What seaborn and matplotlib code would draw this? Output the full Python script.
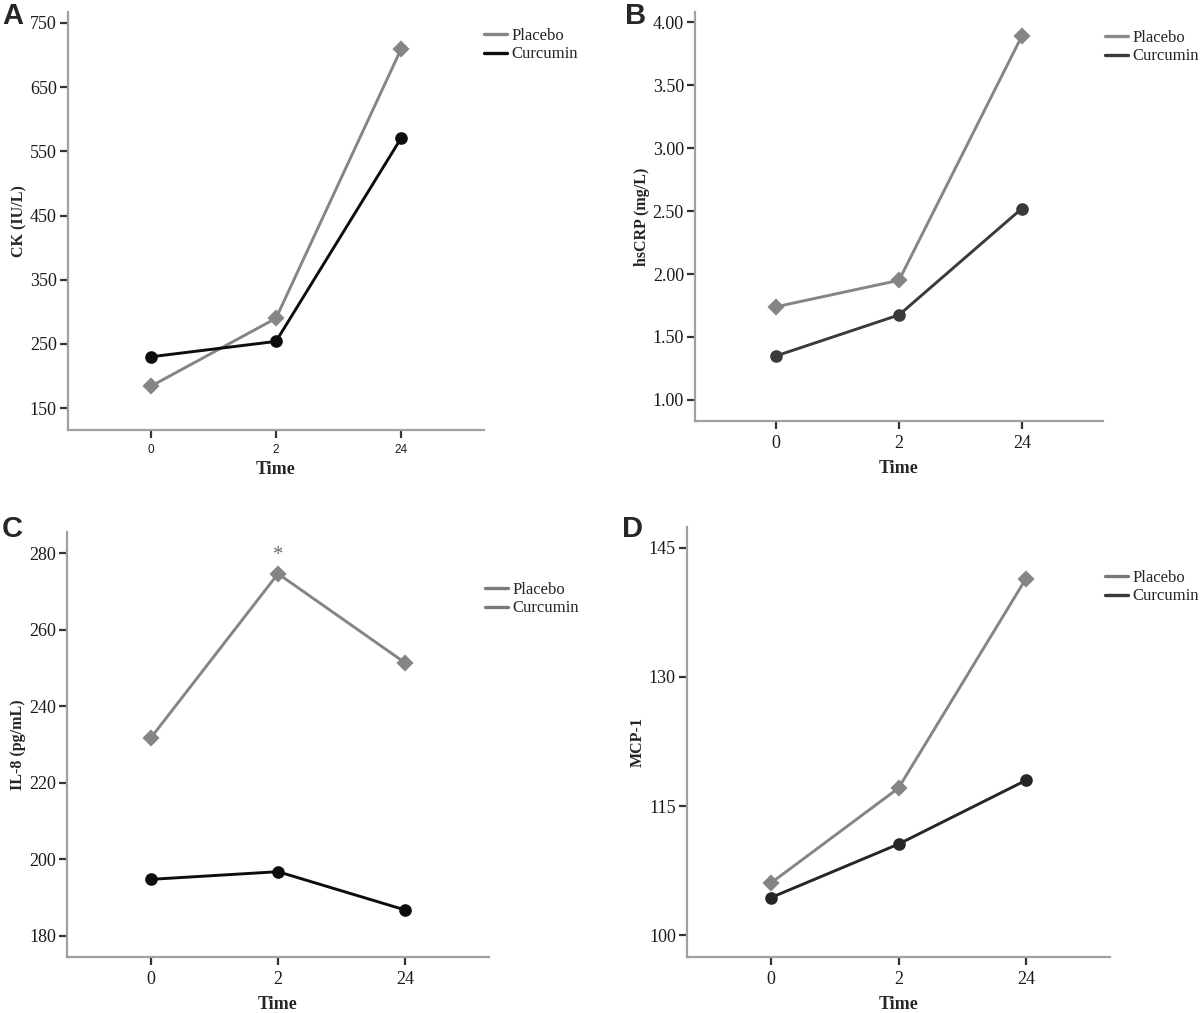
import matplotlib
matplotlib.use("Agg")
import matplotlib.pyplot as plt
from matplotlib.lines import Line2D
import seaborn as sns
import pandas as pd

# ---------------- data ----------------
time_labels = ["0", "2", "24"]
groups = ["Placebo", "Curcumin"]

ck_placebo = [184, 290, 710]
ck_curcumin = [230, 254, 571]

crp_placebo = [1.74, 1.95, 3.89]
crp_curcumin = [1.35, 1.675, 2.52]

il8_placebo = [231.7, 274.6, 251.3]
il8_curcumin = [194.7, 196.7, 186.7]

mcp_placebo = [106.1, 117.1, 141.4]
mcp_curcumin = [104.4, 110.6, 118.0]

ck_ticks = [150, 250, 350, 450, 550, 650, 750]
crp_ticks = [1.00, 1.50, 2.00, 2.50, 3.00, 3.50, 4.00]
il8_ticks = [180, 200, 220, 240, 260, 280]
mcp_ticks = [100, 115, 130, 145]

sns.set_theme(style="white")
plt.rcParams["font.family"] = ["Liberation Serif", "DejaVu Serif"]

W, H = 1200, 1013
fig = plt.figure(figsize=(W / 100, H / 100), dpi=100)


def rect(l, r, t, b):
    return [l / W, 1 - b / H, (r - l) / W, (b - t) / H]


def make_df(p, c):
    rows = []
    for g, vals in zip(groups, [p, c]):
        for t, v in zip(time_labels, vals):
            rows.append({"Time": t, "Value": v, "Group": g})
    return pd.DataFrame(rows)


panels = [
    dict(letter="A", r=rect(68, 484, 12, 430), p=ck_placebo, c=ck_curcumin,
         ylim=(116, 767), ticks=ck_ticks, fmt="{:.0f}", ylabel="CK (IU/L)",
         colors=["#858585", "#0d0d0d"], leg_colors=["#858585", "#0d0d0d"],
         leg=(484, 28), letter_xy=(2, 2), small_x=True, xpad=4),
    dict(letter="B", r=rect(695, 1103, 12, 421), p=crp_placebo, c=crp_curcumin,
         ylim=(0.833, 4.08), ticks=crp_ticks, fmt="{:.2f}", ylabel="hsCRP (mg/L)",
         colors=["#858585", "#3a3a3a"], leg_colors=["#8a8a8a", "#3a3a3a"],
         leg=(1105, 30), letter_xy=(625, 2), small_x=False, xpad=6),
    dict(letter="C", r=rect(67, 489, 532, 957), p=il8_placebo, c=il8_curcumin,
         ylim=(174.4, 285.5), ticks=il8_ticks, fmt="{:.0f}", ylabel="IL-8 (pg/mL)",
         colors=["#858585", "#0d0d0d"], leg_colors=["#7a7a7a", "#7a7a7a"],
         leg=(485, 582), letter_xy=(2, 515), small_x=False, xpad=6),
    dict(letter="D", r=rect(687, 1110, 527, 957), p=mcp_placebo, c=mcp_curcumin,
         ylim=(97.5, 147.4), ticks=mcp_ticks, fmt="{:.0f}", ylabel="MCP-1",
         colors=["#858585", "#262626"], leg_colors=["#7a7a7a", "#3a3a3a"],
         leg=(1105, 570), letter_xy=(622, 515), small_x=False, xpad=6),
]

for pn in panels:
    ax = fig.add_axes(pn["r"])
    df = make_df(pn["p"], pn["c"])
    sns.pointplot(data=df, x="Time", y="Value", hue="Group", order=time_labels,
                  hue_order=groups, palette=pn["colors"], markers=["D", "o"],
                  linestyles=["-", "-"], errorbar=None, ax=ax, legend=False,
                  markersize=7.5, linewidth=2.1)
    ax.set_xlim(-0.66, 2.66)
    ax.set_ylim(*pn["ylim"])
    ax.set_yticks(pn["ticks"])
    ax.set_yticklabels([pn["fmt"].format(t) for t in pn["ticks"]])
    for s in ["top", "right"]:
        ax.spines[s].set_visible(False)
    for s in ["left", "bottom"]:
        ax.spines[s].set_color("#a0a0a0")
        ax.spines[s].set_linewidth(1.6)
    ax.tick_params(axis="y", direction="out", length=6, width=1.6, color="#333333",
                   labelsize=13, pad=2, left=True, labelcolor="#1a1a1a")
    ax.tick_params(axis="x", direction="out", length=6, width=1.6, color="#333333",
                   labelsize=13, pad=4, bottom=True, labelcolor="#1a1a1a")
    if pn["small_x"]:
        for lab in ax.get_xticklabels():
            lab.set_fontfamily(["Liberation Sans", "DejaVu Sans"])
            lab.set_fontsize(8.5)
    ax.set_xlabel("Time", fontsize=13, fontweight="bold", labelpad=pn["xpad"])
    ax.set_ylabel(pn["ylabel"], fontsize=11.5, fontweight="bold", labelpad=2)
    ax.grid(False)

    handles = [Line2D([0], [0], color=col, lw=2.4) for col in pn["leg_colors"]]
    lx, ly = pn["leg"]
    fig.legend(handles=handles, labels=groups, loc="upper left",
               bbox_to_anchor=(lx / W, 1 - ly / H), frameon=False,
               fontsize=12, handlelength=1.4, handletextpad=0.25,
               labelspacing=0.15, borderpad=0, borderaxespad=0)

    bx, by = pn["letter_xy"]
    fig.text(bx / W, 1 - by / H, pn["letter"], ha="left", va="top",
             fontsize=21, fontweight="bold",
             fontfamily=["Liberation Sans", "DejaVu Sans"])

    if pn["letter"] == "C":
        ax.text(1, il8_placebo[1] + 2.2, "*", ha="center", va="bottom",
                fontsize=15, color="#6a6a6a")

fig.savefig("out.png", dpi=100)
